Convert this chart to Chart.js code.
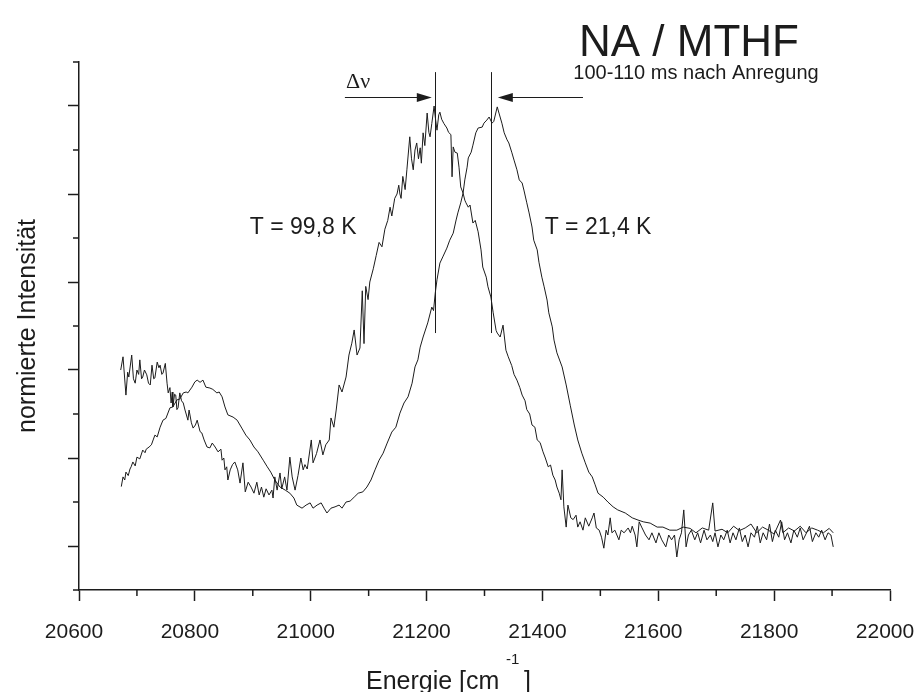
<!DOCTYPE html>
<html>
<head>
<meta charset="utf-8">
<title>NA / MTHF</title>
<script src="https://cdn.jsdelivr.net/npm/chart.js@4"></script>
<style>
  html, body { margin: 0; padding: 0; background: #fff; }
  #wrap { width: 916px; height: 692px; }
</style>
</head>
<body>
<div id="wrap"><canvas id="spec" width="916" height="692"></canvas></div>
<script>
// Emissionsspektren NA / MTHF, 100-110 ms nach Anregung, normiert
// [Energie in cm^-1, normierte Intensität]
const spectrumT99 = [
  [20672,0.400],[20676,0.430],[20681,0.343],[20684,0.395],[20686,0.384],[20691,0.434],[20694,0.380],[20697,0.370],
  [20700,0.400],[20703,0.390],[20705,0.423],[20708,0.380],[20710,0.384],[20713,0.400],[20717,0.389],[20720,0.370],
  [20723,0.366],[20726,0.411],[20729,0.380],[20731,0.382],[20735,0.418],[20738,0.405],[20740,0.411],[20743,0.390],
  [20745,0.393],[20749,0.415],[20752,0.370],[20754,0.348],[20757,0.360],[20759,0.325],[20761,0.350],[20762,0.316],
  [20765,0.345],[20767,0.343],[20769,0.310],[20771,0.314],[20774,0.348],[20777,0.330],[20780,0.325],[20783,0.309],
  [20785,0.300],[20788,0.286],[20790,0.309],[20794,0.280],[20797,0.268],[20801,0.275],[20804,0.286],[20809,0.260],
  [20812,0.257],[20816,0.241],[20821,0.225],[20826,0.223],[20830,0.234],[20835,0.225],[20840,0.214],[20845,0.220],
  [20847,0.195],[20850,0.200],[20852,0.173],[20855,0.180],[20857,0.150],[20861,0.173],[20865,0.185],[20869,0.191],
  [20874,0.173],[20878,0.143],[20883,0.189],[20887,0.123],[20892,0.145],[20897,0.134],[20902,0.120],[20907,0.145],
  [20911,0.116],[20915,0.134],[20919,0.111],[20923,0.130],[20928,0.116],[20933,0.127],[20935,0.109],[20938,0.157],
  [20942,0.127],[20947,0.166],[20950,0.130],[20955,0.157],[20959,0.127],[20964,0.202],[20968,0.157],[20973,0.127],
  [20978,0.160],[20983,0.200],[20987,0.173],[20990,0.185],[20994,0.175],[21001,0.241],[21004,0.189],[21010,0.210],
  [21016,0.241],[21021,0.207],[21026,0.230],[21032,0.241],[21035,0.291],[21040,0.270],[21044,0.309],[21049,0.366],
  [21054,0.350],[21061,0.384],[21066,0.434],[21071,0.461],[21075,0.491],[21080,0.434],[21085,0.450],[21089,0.580],
  [21092,0.460],[21095,0.590],[21099,0.560],[21102,0.600],[21108,0.630],[21113,0.660],[21118,0.690],[21123,0.680],
  [21128,0.720],[21133,0.740],[21137,0.770],[21140,0.750],[21145,0.790],[21149,0.800],[21152,0.820],[21154,0.800],
  [21156,0.790],[21159,0.840],[21163,0.810],[21166,0.855],[21171,0.930],[21174,0.880],[21177,0.855],[21180,0.900],
  [21183,0.916],[21186,0.880],[21189,0.905],[21191,0.870],[21194,0.939],[21197,0.910],[21201,0.984],[21204,0.940],
  [21206,0.930],[21209,0.960],[21213,1.000],[21215,0.975],[21218,0.945],[21221,0.980],[21223,0.986],[21226,0.970],
  [21230,0.960],[21235,0.950],[21238,0.940],[21242,0.935],[21244,0.839],[21246,0.907],[21249,0.895],[21253,0.893],
  [21256,0.861],[21259,0.816],[21263,0.802],[21266,0.786],[21268,0.780],[21272,0.770],[21275,0.775],[21280,0.734],
  [21284,0.740],[21289,0.714],[21294,0.673],[21297,0.634],[21303,0.611],[21306,0.589],[21311,0.566],[21315,0.530],
  [21320,0.490],[21322,0.484],[21327,0.475],[21332,0.502],[21337,0.445],[21341,0.430],[21347,0.410],[21351,0.390],
  [21356,0.377],[21361,0.360],[21365,0.343],[21370,0.330],[21373,0.310],[21378,0.300],[21382,0.275],[21387,0.270],
  [21391,0.241],[21396,0.235],[21401,0.214],[21405,0.200],[21410,0.180],[21414,0.184],[21418,0.161],[21422,0.150],
  [21425,0.134],[21429,0.120],[21432,0.105],[21434,0.173],[21437,0.089],[21441,0.043],[21444,0.093],[21449,0.064],
  [21453,0.060],[21458,0.070],[21461,0.043],[21465,0.055],[21470,0.036],[21474,0.064],[21480,0.045],[21486,0.064],
  [21489,0.075],[21493,0.041],[21498,0.036],[21502,0.020],[21506,-0.005],[21510,0.036],[21513,0.025],[21517,0.064],
  [21520,0.030],[21525,0.036],[21532,0.014],[21536,0.036],[21541,0.030],[21548,0.041],[21552,0.030],[21555,0.045],
  [21560,0.025],[21563,-0.002],[21567,0.055],[21572,0.041],[21578,0.025],[21584,0.014],[21589,0.030],[21596,0.007],
  [21601,0.030],[21606,0.014],[21613,-0.002],[21618,0.025],[21623,0.014],[21628,0.025],[21632,-0.025],[21636,0.014],
  [21640,0.030],[21644,0.082],[21648,-0.002],[21652,0.025],[21657,0.036],[21663,0.014],[21668,0.030],[21673,0.007],
  [21679,0.036],[21684,0.014],[21690,0.025],[21694,0.010],[21698,0.030],[21703,-0.002],[21708,0.025],[21713,0.014],
  [21719,0.036],[21724,0.007],[21729,0.030],[21734,0.014],[21740,0.041],[21745,0.010],[21750,0.025],[21755,-0.002],
  [21760,0.030],[21766,0.020],[21771,0.045],[21776,0.007],[21781,0.030],[21787,0.014],[21792,0.050],[21797,0.010],
  [21802,0.036],[21808,0.020],[21813,0.055],[21818,0.014],[21823,0.030],[21829,0.007],[21834,0.036],[21840,0.020],
  [21845,0.041],[21850,0.014],[21856,0.030],[21861,0.045],[21866,0.010],[21872,0.030],[21877,0.020],[21882,0.036],
  [21888,0.014],[21893,0.030],[21898,0.025],[21902,-0.002]
];
const spectrumT21 = [
  [20673,0.135],[20676,0.157],[20679,0.150],[20681,0.168],[20685,0.160],[20688,0.175],[20690,0.180],[20693,0.191],
  [20697,0.182],[20700,0.202],[20705,0.198],[20710,0.218],[20714,0.212],[20716,0.220],[20721,0.225],[20725,0.230],
  [20728,0.241],[20731,0.252],[20735,0.248],[20740,0.270],[20745,0.286],[20750,0.290],[20757,0.314],[20762,0.316],
  [20769,0.332],[20774,0.334],[20780,0.348],[20785,0.350],[20788,0.348],[20795,0.361],[20800,0.373],[20804,0.377],
  [20809,0.372],[20814,0.377],[20819,0.361],[20826,0.359],[20831,0.356],[20838,0.348],[20842,0.350],[20847,0.339],
  [20852,0.316],[20857,0.298],[20866,0.293],[20873,0.286],[20881,0.268],[20888,0.252],[20895,0.241],[20902,0.225],
  [20909,0.214],[20918,0.195],[20925,0.180],[20931,0.168],[20938,0.150],[20947,0.134],[20956,0.127],[20964,0.120],
  [20971,0.109],[20976,0.093],[20985,0.086],[20992,0.093],[20999,0.098],[21004,0.086],[21011,0.093],[21018,0.098],
  [21023,0.086],[21028,0.075],[21035,0.086],[21042,0.089],[21049,0.093],[21054,0.086],[21061,0.100],[21068,0.102],
  [21075,0.111],[21082,0.120],[21090,0.123],[21097,0.134],[21104,0.150],[21111,0.173],[21118,0.195],[21125,0.211],
  [21132,0.234],[21140,0.259],[21147,0.270],[21154,0.302],[21161,0.325],[21168,0.339],[21175,0.370],[21180,0.407],
  [21185,0.423],[21189,0.452],[21194,0.475],[21202,0.507],[21209,0.543],[21212,0.535],[21215,0.575],[21218,0.605],
  [21223,0.643],[21228,0.657],[21235,0.677],[21240,0.695],[21246,0.711],[21251,0.741],[21254,0.757],[21259,0.780],
  [21263,0.802],[21266,0.832],[21270,0.861],[21272,0.882],[21277,0.895],[21280,0.911],[21285,0.939],[21289,0.950],
  [21296,0.952],[21299,0.961],[21304,0.968],[21308,0.975],[21313,0.961],[21316,0.965],[21322,0.998],[21325,0.984],
  [21330,0.961],[21334,0.939],[21339,0.923],[21342,0.916],[21347,0.895],[21351,0.877],[21356,0.855],[21360,0.832],
  [21365,0.825],[21368,0.809],[21373,0.780],[21377,0.757],[21382,0.725],[21385,0.695],[21391,0.673],[21394,0.645],
  [21399,0.611],[21403,0.589],[21408,0.559],[21411,0.530],[21417,0.498],[21420,0.468],[21425,0.439],[21434,0.407],
  [21441,0.366],[21448,0.320],[21455,0.275],[21461,0.241],[21468,0.211],[21474,0.189],[21480,0.168],[21486,0.157],
  [21491,0.139],[21496,0.120],[21505,0.111],[21513,0.100],[21522,0.089],[21530,0.082],[21543,0.075],[21555,0.064],
  [21565,0.059],[21574,0.055],[21586,0.052],[21598,0.043],[21608,0.043],[21620,0.036],[21632,0.036],[21643,0.043],
  [21655,0.040],[21665,0.030],[21676,0.041],[21687,0.036],[21694,0.098],[21698,0.034],[21710,0.038],[21720,0.030],
  [21730,0.045],[21740,0.035],[21750,0.041],[21760,0.050],[21770,0.030],[21780,0.043],[21790,0.036],[21800,0.027],
  [21811,0.059],[21815,0.030],[21825,0.041],[21835,0.034],[21845,0.045],[21855,0.030],[21865,0.041],[21875,0.036],
  [21885,0.030],[21895,0.040],[21902,0.030]
];

// Achsen
const xRange = [20600, 22000];
const yRange = [-0.1, 1.1];
const xMinorTicks = [20700, 20900, 21100, 21300, 21500, 21700, 21900];
const yMinorTicks = [-0.1, 0.1, 0.3, 0.5, 0.7, 0.9, 1.1];

// Markierungen: Peak-Linien, Pfeile für Δν, Temperatur-Beschriftungen
const peakLines = [21215, 21311];
const peakLineSpan = [0.484, 1.077];
const shiftArrows = [{ from: 21059, to: 21209 }, { from: 21470, to: 21323 }];
const arrowLevel = 1.02;
const tempLabels = [
  { text: 'T = 99,8 K', x: 20987, y: 0.723 },
  { text: 'T = 21,4 K', x: 21496, y: 0.723 },
];

const FONT = '"Liberation Sans", Arial, sans-serif';
const INK = '#1c1c1c';

const annotate = {
  id: 'annotate',
  afterDraw(chart) {
    const { ctx, scales: { x, y } } = chart;
    ctx.save();
    ctx.strokeStyle = INK;
    ctx.fillStyle = INK;

    // Nebenstriche
    ctx.lineWidth = 1.5;
    const ax = x.getPixelForValue(xRange[0]);
    const ay = y.getPixelForValue(yRange[0]);
    ctx.beginPath();
    xMinorTicks.forEach(v => { const p = x.getPixelForValue(v); ctx.moveTo(p, ay); ctx.lineTo(p, ay + 6); });
    yMinorTicks.forEach(v => { const p = y.getPixelForValue(v); ctx.moveTo(ax, p); ctx.lineTo(ax - 6, p); });
    ctx.stroke();

    // senkrechte Linien an den Maxima
    ctx.lineWidth = 1;
    ctx.beginPath();
    peakLines.forEach(v => {
      const p = Math.round(x.getPixelForValue(v)) + 0.5;
      ctx.moveTo(p, y.getPixelForValue(peakLineSpan[0]));
      ctx.lineTo(p, y.getPixelForValue(peakLineSpan[1]));
    });
    ctx.stroke();

    // Pfeile
    const py = Math.round(y.getPixelForValue(arrowLevel)) + 0.5;
    shiftArrows.forEach(a => {
      const x0 = x.getPixelForValue(a.from), x1 = x.getPixelForValue(a.to);
      const dir = Math.sign(x1 - x0);
      ctx.beginPath();
      ctx.moveTo(x0, py); ctx.lineTo(x1 - dir * 10, py);
      ctx.stroke();
      ctx.beginPath();
      ctx.moveTo(x1, py); ctx.lineTo(x1 - dir * 15, py - 4.5); ctx.lineTo(x1 - dir * 15, py + 4.5);
      ctx.closePath();
      ctx.fill();
    });

    // Δν
    ctx.font = '22px "Liberation Serif", "Times New Roman", serif';
    ctx.textAlign = 'left';
    ctx.textBaseline = 'alphabetic';
    ctx.fillText('Δν', 346, 88);

    // Temperaturen
    ctx.font = '23px ' + FONT;
    ctx.textAlign = 'center';
    ctx.textBaseline = 'middle';
    tempLabels.forEach(t => ctx.fillText(t.text, x.getPixelForValue(t.x), y.getPixelForValue(t.y)));

    // Titel
    ctx.font = '44px ' + FONT;
    ctx.textBaseline = 'alphabetic';
    ctx.fillText('NA / MTHF', 689, 56);
    ctx.font = '20px ' + FONT;
    ctx.fillText('100-110 ms nach Anregung', 696, 79);

    // x-Achsentitel mit Exponent
    ctx.textAlign = 'left';
    ctx.font = '25px ' + FONT;
    ctx.fillText('Energie [cm', 366, 689);
    ctx.fillText(']', 524, 689);
    ctx.font = '15px ' + FONT;
    ctx.fillText('-1', 506, 664);
    ctx.restore();
  }
};

const line = (data) => ({
  data: data.map(([x, y]) => ({ x, y })),
  showLine: true,
  borderColor: INK,
  borderWidth: 1,
  pointRadius: 0,
  tension: 0,
});

new Chart(document.getElementById('spec'), {
  type: 'scatter',
  data: { datasets: [line(spectrumT99), line(spectrumT21)] },
  options: {
    responsive: false,
    animation: false,
    layout: { padding: { top: 62, right: 26, left: 0, bottom: 0 } },
    plugins: { legend: { display: false }, tooltip: { enabled: false } },
    scales: {
      x: {
        type: 'linear', min: xRange[0], max: xRange[1],
        border: { display: true, color: INK, width: 1.5 },
        grid: {
          drawOnChartArea: false, drawTicks: true, tickLength: 11, tickWidth: 1.5,
          tickColor: c => (c.tick && c.tick.value % 200 === 0) ? INK : 'rgba(0,0,0,0)',
        },
        ticks: {
          stepSize: 100, autoSkip: false, maxRotation: 0, padding: 19, labelOffset: -5,
          color: INK, font: { family: FONT, size: 21 },
          callback: v => v % 200 === 0 ? String(v) : '',
        },
        afterFit: s => { s.height = 102; s.paddingLeft = 0; s.paddingRight = 0; },
      },
      y: {
        type: 'linear', min: yRange[0], max: yRange[1],
        border: { display: true, color: INK, width: 1.5 },
        grid: {
          drawOnChartArea: false, drawTicks: true, tickLength: 11, tickWidth: 1.5,
          tickColor: c => (c.tick && Math.round(c.tick.value * 10) % 2 === 0) ? INK : 'rgba(0,0,0,0)',
        },
        ticks: { stepSize: 0.1, autoSkip: false, callback: () => '' },
        title: {
          display: true, text: 'normierte Intensität', color: INK,
          font: { family: FONT, size: 25 }, padding: { top: 13, bottom: 0 },
        },
        afterFit: s => { s.width = 79; s.paddingTop = 0; s.paddingBottom = 0; },
      },
    },
  },
  plugins: [annotate],
});
</script>
</body>
</html>
